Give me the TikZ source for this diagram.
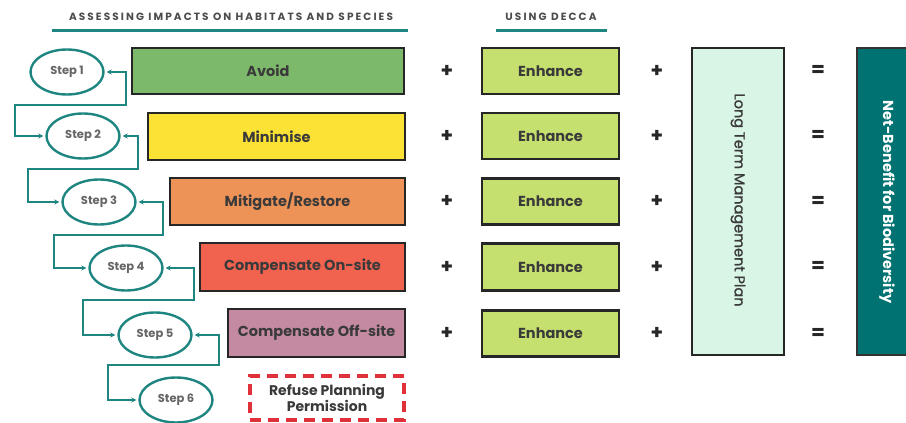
\documentclass[tikz,border=0pt]{standalone}
\usepackage{fontspec}
\setmainfont{Poppins}
\usetikzlibrary{arrows.meta,shapes.geometric}
\definecolor{tealline}{HTML}{1E8580}
\definecolor{tealdark}{HTML}{007272}
\definecolor{cavoid}{HTML}{7DB96B}
\definecolor{cmin}{HTML}{FCE234}
\definecolor{cmit}{HTML}{EE9358}
\definecolor{con}{HTML}{F1624F}
\definecolor{coff}{HTML}{C48AA2}
\definecolor{cenh}{HTML}{C6E06F}
\definecolor{cltm}{HTML}{D9F5E6}
\definecolor{txtgrey}{HTML}{3A3A3A}
\definecolor{dashred}{HTML}{E0303A}
\tikzset{
  x=1pt,y=-1pt,
  box/.style={draw=black!85, line width=2.6pt, inner sep=0pt, text=txtgrey,
    font=\bfseries\fontsize{14.5}{16}\selectfont},
  stepnode/.style={ellipse, draw=tealline, line width=2.4pt, inner sep=0pt,
    minimum width=73pt, minimum height=45pt, text=black!60,
    font=\bfseries\fontsize{11.5}{13}\selectfont},
  conn/.style={draw=tealline, line width=1.3pt,
    {Stealth[length=5pt,width=5pt]}-{Stealth[length=5pt,width=5pt]},
    shorten <=2pt, shorten >=2pt},
  op/.style={font=\bfseries\fontsize{20}{20}\selectfont, text=black!85, inner sep=0pt},
  hdr/.style={font=\bfseries\fontsize{10.5}{12}\selectfont\addfontfeature{LetterSpace=20}, text=black!70, inner sep=0pt},
  uline/.style={draw=tealline, line width=3pt}
}
\begin{document}
\begin{tikzpicture}
\clip (0,0) rectangle (906,423);
\fill[white] (0,0) rectangle (906,423);
% headers
\node[hdr] (h1) at (231,17) {ASSESSING IMPACTS ON HABITATS AND SPECIES};
\coordinate (u1a) at (52,30); \coordinate (u1b) at (408,30);
\draw[uline] (u1a) -- (u1b);
\node[hdr] (h2) at (551,17) {USING DECCA};
\coordinate (u2a) at (496,30); \coordinate (u2b) at (607,30);
\draw[uline] (u2a) -- (u2b);
% left boxes
\node[box, fill=cavoid, minimum width=272pt, minimum height=46pt] (b1) at (268,71) {Avoid};
\node[box, fill=cmin, minimum width=257pt, minimum height=47pt] (b2) at (276.5,136.5) {Minimise};
\node[box, fill=cmit, minimum width=235pt, minimum height=47pt] (b3) at (287.5,201.5) {Mitigate/Restore};
\node[box, fill=con, minimum width=205pt, minimum height=48pt] (b4) at (302.5,267) {Compensate On-site};
\node[box, fill=coff, minimum width=177pt, minimum height=48pt] (b5) at (316.5,333) {Compensate Off-site};
\node[box, draw=dashred, line width=3.2pt, dash pattern=on 11pt off 7pt, fill=white, align=center,
  minimum width=154pt, minimum height=44pt, font=\bfseries\fontsize{14}{15}\selectfont] (b6) at (327,398) {Refuse Planning\\Permission};
% steps
\node[stepnode] (s1) at (67,72) {Step 1};
\node[stepnode] (s2) at (83,136) {Step 2};
\node[stepnode] (s3) at (99,202) {Step 3};
\node[stepnode] (s4) at (126,268) {Step 4};
\node[stepnode] (s5) at (155,335) {Step 5};
\node[stepnode] (s6) at (176,400) {Step 6};
% connectors
\coordinate (a1) at (126,105); \coordinate (c1) at (15,105);
\coordinate (a2) at (138,169); \coordinate (c2) at (28,169);
\coordinate (a3) at (163,235); \coordinate (c3) at (54,235);
\coordinate (a4) at (194,300); \coordinate (c4) at (83,300);
\coordinate (a5) at (219,365); \coordinate (c5) at (108,365);
\draw[conn] (s1.east) -| (a1) -- (c1) |- (s2.west);
\draw[conn] (s2.east) -| (a2) -- (c2) |- (s3.west);
\draw[conn] (s3.east) -| (a3) -- (c3) |- (s4.west);
\draw[conn] (s4.east) -| (a4) -- (c4) |- (s5.west);
\draw[conn] (s5.east) -| (a5) -- (c5) |- (s6.west);
% enhance boxes and operators
\foreach \y/\i/\h in {71/1/46, 136/2/46, 201.5/3/46, 267/4/47, 333.5/5/46}{
  \node[op] (p\i) at (447,\y) {+};
  \node[box, fill=cenh, minimum width=137pt, minimum height=\h pt] (e\i) at (550.5,\y) {Enhance};
  \node[op] (q\i) at (657,\y) {+};
  \node[op] (eq\i) at (818,\y) {=};
}
\node[box, fill=cltm, line width=2.3pt, minimum width=92pt, minimum height=307pt] (ltm) at (738,201.5) {};
\node[rotate=-90, text=txtgrey, font=\fontsize{14.5}{16}\selectfont\addfontfeature{FakeBold=1.2}, inner sep=0pt] (ltmt) at (738,200) {Long Term Management Plan};
\node[box, fill=tealdark, draw=black!80, line width=2.3pt, minimum width=60pt, minimum height=307pt] (nb) at (887,201.5) {};
\node[rotate=-90, text=white, font=\bfseries\fontsize{14.5}{16}\selectfont, inner sep=0pt] (nbt) at (887,202) {Net-Benefit for Biodiversity};
\end{tikzpicture}
\end{document}
